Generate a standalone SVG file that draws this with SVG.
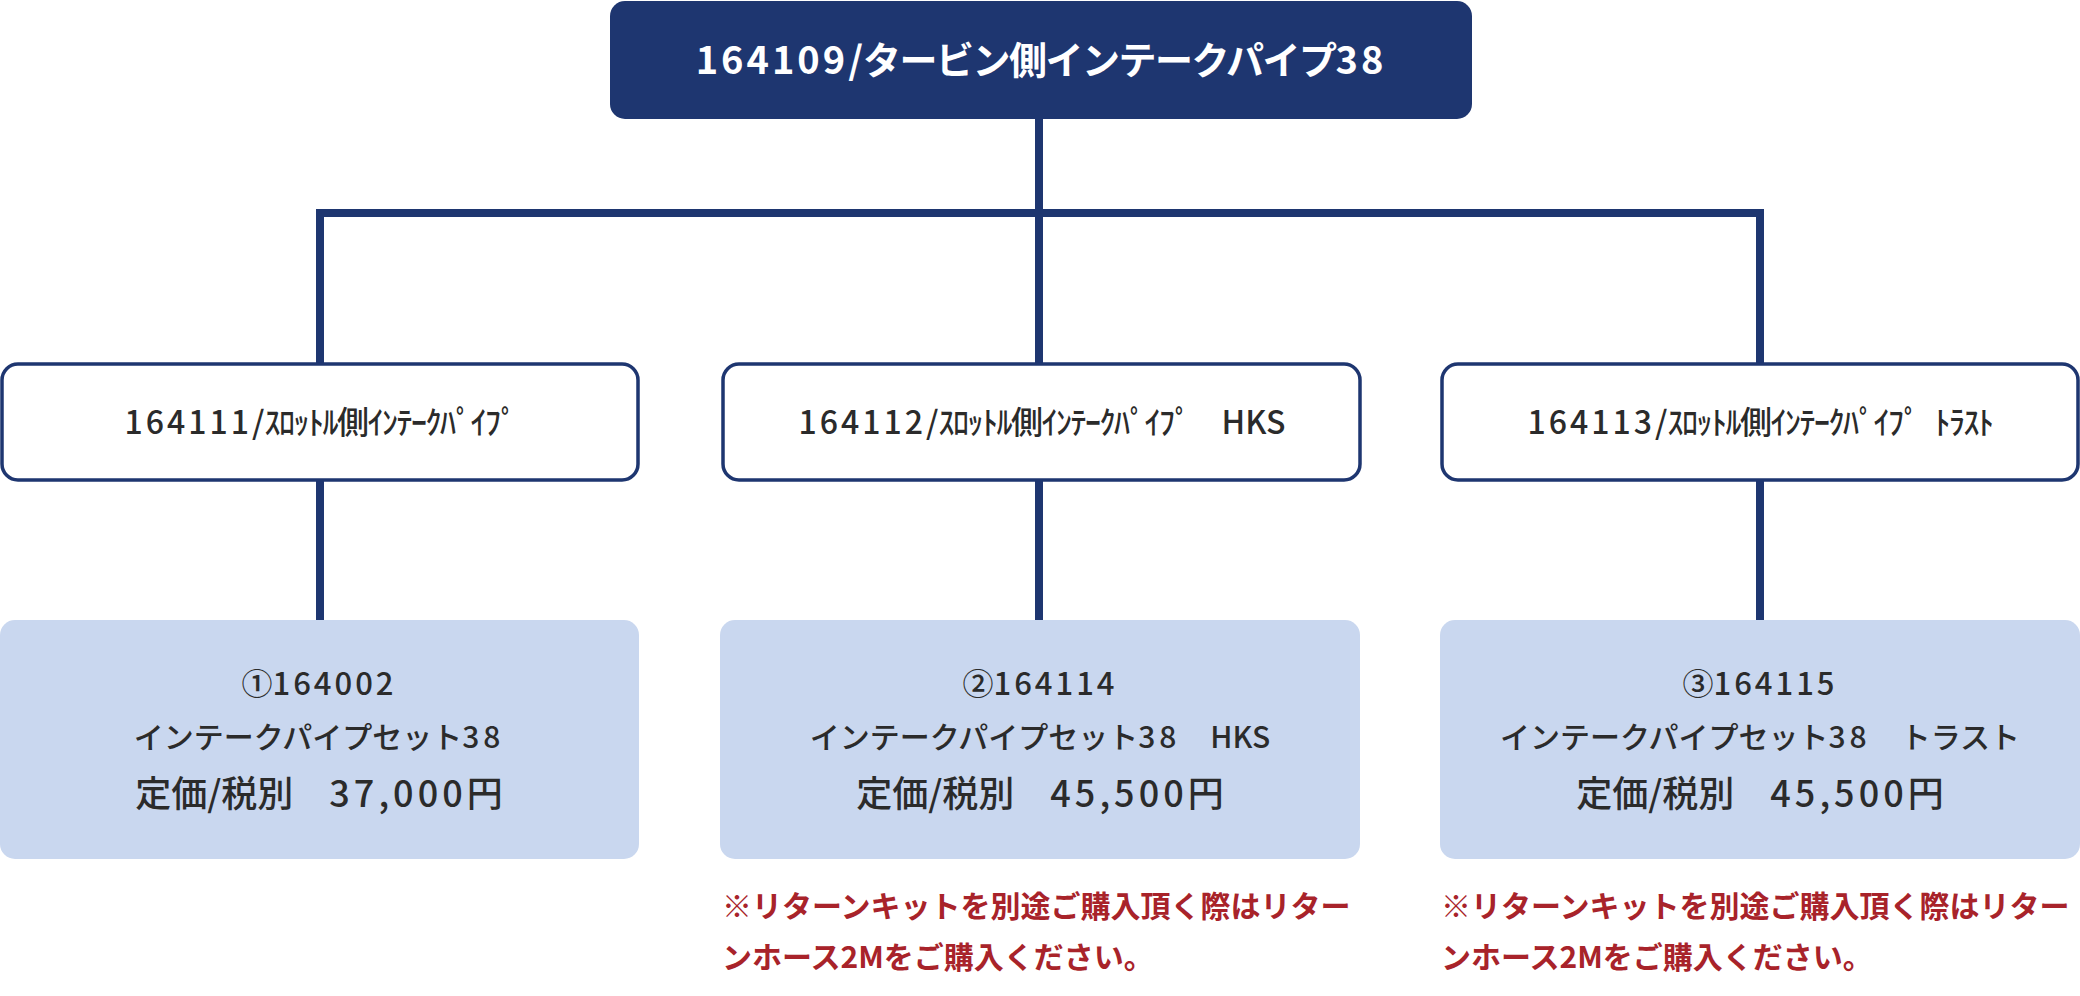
<svg xmlns="http://www.w3.org/2000/svg" width="2080" height="996" viewBox="0 0 2080 996">
<style>
text{font-family:"Noto Sans CJK JP","Noto Sans",sans-serif;}
.title{fill:#ffffff;font-size:38px;font-weight:700;}
.mid{fill:#2b2b2b;font-size:32px;font-weight:500;}
.l1{fill:#2b2b2b;font-size:31px;font-weight:500;}
.l2{fill:#2b2b2b;font-size:30px;font-weight:500;}
.l3{fill:#2b2b2b;font-size:36px;font-weight:500;}
.note{fill:#a8232a;font-size:30px;font-weight:700;}
.wbox{fill:#ffffff;stroke:#1e3670;stroke-width:3.5;}
.bbox{fill:#c9d7ef;}
.conn{stroke:#1e3670;stroke-width:8;fill:none;}
</style>
<g id="connectors">
<line class="conn" x1="1039" y1="118" x2="1039" y2="213"/>
<line class="conn" x1="316" y1="213" x2="1764" y2="213"/>
<line class="conn" x1="320" y1="209" x2="320" y2="364"/>
<line class="conn" x1="1039" y1="213" x2="1039" y2="364"/>
<line class="conn" x1="1760" y1="209" x2="1760" y2="364"/>
<line class="conn" x1="320" y1="480" x2="320" y2="621"/>
<line class="conn" x1="1039" y1="480" x2="1039" y2="621"/>
<line class="conn" x1="1760" y1="480" x2="1760" y2="621"/>
</g>
<g id="top">
<rect x="610" y="1" width="862" height="118" rx="15" fill="#1e3670"/>
<text class="title" x="1041" y="74" text-anchor="middle"><tspan letter-spacing="3">164109</tspan>/<tspan letter-spacing="-1.5">タービン側インテークパイプ</tspan><tspan letter-spacing="3">38</tspan></text>
</g>
<g id="mid1">
<rect class="wbox" x="2" y="364" width="636" height="116" rx="16"/>
<text class="mid" x="320" y="434" text-anchor="middle"><tspan letter-spacing="3">164111</tspan>/<tspan letter-spacing="-1.5">ｽﾛｯﾄﾙ側ｲﾝﾃｰｸﾊﾟｲﾌﾟ</tspan></text>
</g>
<g id="mid2">
<rect class="wbox" x="723" y="364" width="637" height="116" rx="16"/>
<text class="mid" x="1042" y="434" text-anchor="middle"><tspan letter-spacing="3">164112</tspan>/<tspan letter-spacing="-1.5">ｽﾛｯﾄﾙ側ｲﾝﾃｰｸﾊﾟｲﾌﾟ</tspan>　HKS</text>
</g>
<g id="mid3">
<rect class="wbox" x="1442" y="364" width="636" height="116" rx="16"/>
<text class="mid" x="1760" y="434" text-anchor="middle"><tspan letter-spacing="3">164113</tspan>/<tspan letter-spacing="-1.5">ｽﾛｯﾄﾙ側ｲﾝﾃｰｸﾊﾟｲﾌﾟ</tspan><tspan dx="16" letter-spacing="-1.5">ﾄﾗｽﾄ</tspan></text>
</g>
<g id="item1">
<rect class="bbox" x="0" y="620" width="639" height="239" rx="15"/>
<text class="l1" x="319" y="695" text-anchor="middle">①<tspan letter-spacing="3">164002</tspan></text>
<text class="l2" x="319" y="748" text-anchor="middle">インテークパイプセット<tspan letter-spacing="4">38</tspan></text>
<text class="l3" x="319" y="807" text-anchor="middle">定価/税別　<tspan letter-spacing="4">37,000</tspan>円</text>
</g>
<g id="item2">
<rect class="bbox" x="720" y="620" width="640" height="239" rx="15"/>
<text class="l1" x="1040" y="695" text-anchor="middle">②<tspan letter-spacing="3">164114</tspan></text>
<text class="l2" x="1040" y="748" text-anchor="middle">インテークパイプセット<tspan letter-spacing="4">38</tspan>　HKS</text>
<text class="l3" x="1040" y="807" text-anchor="middle">定価/税別　<tspan letter-spacing="4">45,500</tspan>円</text>
<text class="note" x="722" y="917">※リターンキットを別途ご購入頂く際はリター</text>
<text class="note" x="722" y="968">ンホース2Mをご購入ください。</text>
</g>
<g id="item3">
<rect class="bbox" x="1440" y="620" width="640" height="239" rx="15"/>
<text class="l1" x="1760" y="695" text-anchor="middle">③<tspan letter-spacing="3">164115</tspan></text>
<text class="l2" x="1760" y="748" text-anchor="middle">インテークパイプセット<tspan letter-spacing="4">38</tspan>　トラスト</text>
<text class="l3" x="1760" y="807" text-anchor="middle">定価/税別　<tspan letter-spacing="4">45,500</tspan>円</text>
<text class="note" x="1441" y="917">※リターンキットを別途ご購入頂く際はリター</text>
<text class="note" x="1441" y="968">ンホース2Mをご購入ください。</text>
</g>
</svg>
